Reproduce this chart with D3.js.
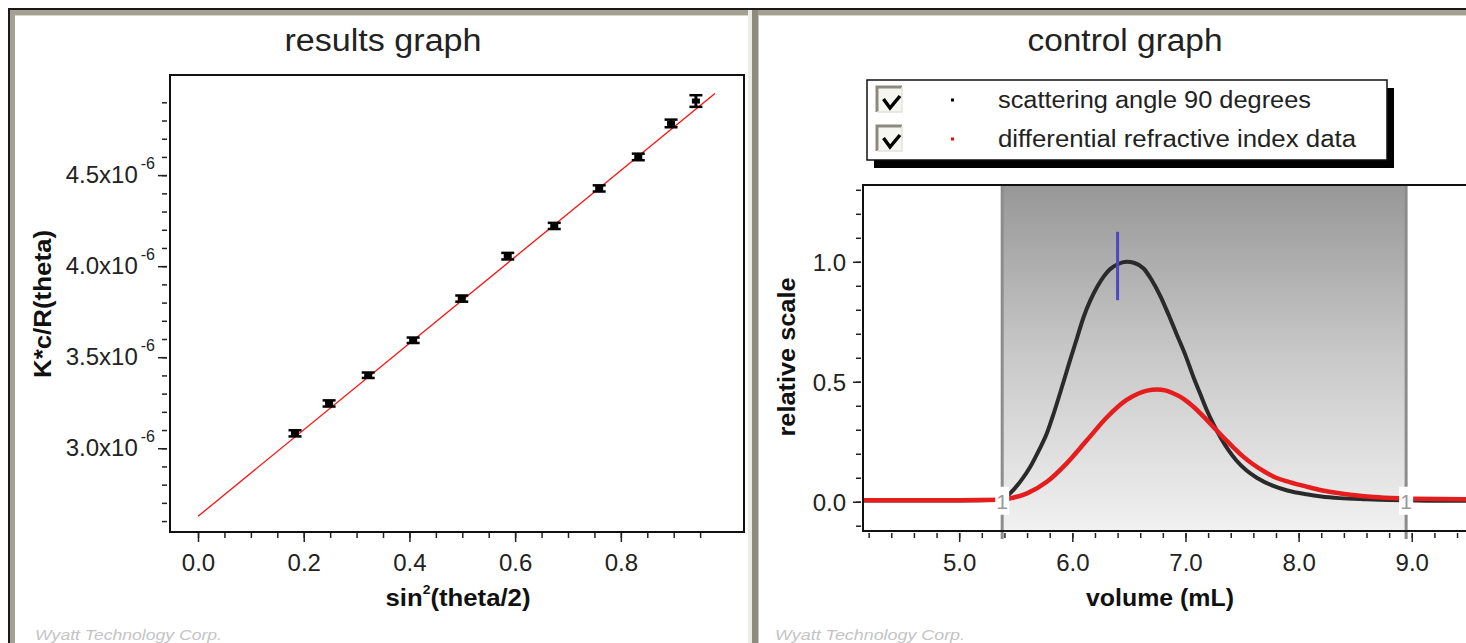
<!DOCTYPE html>
<html><head><meta charset="utf-8">
<script src="https://cdn.jsdelivr.net/npm/d3@7"></script>
<style>
html,body{margin:0;padding:0;background:#fff;}
svg{display:block;font-family:"Liberation Sans",Arial,sans-serif;}
</style></head>
<body>
<svg id="chart" width="1466" height="643"></svg>
<script>
// ---------------- DATA ----------------
// results graph (Zimm-type plot)
const sinSqHalfTheta = [0.1835, 0.248, 0.322, 0.407, 0.499, 0.586, 0.674, 0.759, 0.833, 0.895, 0.942];
const kcR = [3.082e-6, 3.246e-6, 3.401e-6, 3.593e-6, 3.822e-6, 4.055e-6, 4.221e-6, 4.427e-6, 4.600e-6, 4.784e-6, 4.907e-6];
const kcRErr = [0.017e-6, 0.017e-6, 0.015e-6, 0.015e-6, 0.017e-6, 0.018e-6, 0.017e-6, 0.017e-6, 0.018e-6, 0.021e-6, 0.032e-6];
const fitX = [0.0, 0.978];
const fitY = [2.626e-6, 4.949e-6];
const resultsXTicks = [0.0, 0.2, 0.4, 0.6, 0.8];
const resultsXTickLabels = ["0.0", "0.2", "0.4", "0.6", "0.8"];
const resultsYTicks = [3.0e-6, 3.5e-6, 4.0e-6, 4.5e-6];
const resultsYTickLabels = ["3.0x10", "3.5x10", "4.0x10", "4.5x10"];
const resultsYTickExp = "-6";

// control graph
const lsVolume = [4.15, 4.6, 5.0, 5.38, 5.45, 5.55, 5.63, 5.70, 5.775, 5.83, 5.89, 5.98, 6.04, 6.10, 6.16, 6.22, 6.28, 6.33, 6.40, 6.48, 6.55, 6.63, 6.70, 6.78, 6.85, 6.92, 7.00, 7.07, 7.13, 7.19, 7.25, 7.31, 7.38, 7.45, 7.54, 7.63, 7.77, 7.90, 8.07, 8.20, 8.36, 8.60, 8.80, 8.95, 9.20, 9.60];
const lsSignal = [0.005, 0.005, 0.005, 0.008, 0.035, 0.09, 0.147, 0.21, 0.285, 0.36, 0.45, 0.59, 0.68, 0.77, 0.84, 0.896, 0.94, 0.968, 0.99, 1.0, 0.995, 0.972, 0.925, 0.855, 0.78, 0.70, 0.61, 0.52, 0.45, 0.38, 0.32, 0.268, 0.215, 0.172, 0.13, 0.10, 0.067, 0.047, 0.031, 0.022, 0.015, 0.01, 0.007, 0.006, 0.004, 0.004];
const riVolume = [4.15, 4.6, 5.0, 5.38, 5.45, 5.60, 5.775, 5.95, 6.13, 6.31, 6.48, 6.58, 6.66, 6.75, 6.82, 6.89, 6.98, 7.07, 7.16, 7.25, 7.33, 7.42, 7.50, 7.60, 7.70, 7.80, 7.92, 8.07, 8.20, 8.36, 8.50, 8.66, 8.89, 9.00, 9.60];
const riSignal = [0.006, 0.006, 0.006, 0.008, 0.014, 0.035, 0.083, 0.16, 0.257, 0.354, 0.424, 0.45, 0.463, 0.468, 0.464, 0.452, 0.43, 0.396, 0.355, 0.31, 0.27, 0.228, 0.192, 0.155, 0.125, 0.10, 0.082, 0.063, 0.048, 0.035, 0.027, 0.02, 0.014, 0.012, 0.01];
const peakRange = [5.38, 8.95];
const peakLabels = ["1", "1"];
const markerVolume = 6.40;
const markerSpan = [0.84, 1.125];
const controlXTicks = [5.0, 6.0, 7.0, 8.0, 9.0];
const controlXTickLabels = ["5.0", "6.0", "7.0", "8.0", "9.0"];
const controlYTicks = [0.0, 0.5, 1.0];
const controlYTickLabels = ["0.0", "0.5", "1.0"];
const legendLabels = ["scattering angle 90 degrees", "differential refractive index data"];
const legendColors = ["#000000", "#ff0000"];

// ---------------- DRAW ----------------
const svg = d3.select("#chart");
const FONT = "'Liberation Sans', Arial, sans-serif";
const defs = svg.append("defs");

// panel frames
svg.append("rect").attr("x", 0).attr("y", 0).attr("width", 1466).attr("height", 643).attr("fill", "#fff");
svg.append("rect").attr("x", 8).attr("y", 8).attr("width", 1460).attr("height", 2).attr("fill", "#1a1a1a");
svg.append("rect").attr("x", 8).attr("y", 8).attr("width", 2).attr("height", 640).attr("fill", "#1a1a1a");
svg.append("rect").attr("x", 10).attr("y", 10).attr("width", 1460).attr("height", 5).attr("fill", "#a5a192");
svg.append("rect").attr("x", 10).attr("y", 10).attr("width", 5).attr("height", 640).attr("fill", "#a5a192");
svg.append("rect").attr("x", 15).attr("y", 15).attr("width", 1460).attr("height", 1).attr("fill", "#d8d6cc");
svg.append("rect").attr("x", 748).attr("y", 10).attr("width", 4).attr("height", 640).attr("fill", "#ecebe4");
svg.append("rect").attr("x", 752).attr("y", 10).attr("width", 6).attr("height", 640).attr("fill", "#8f8b7c");
svg.append("rect").attr("x", 758).attr("y", 15).attr("width", 1).attr("height", 640).attr("fill", "#c8c6bc");

// ===== results graph =====
const xL = d3.scaleLinear().domain([-0.053, 1.033]).range([170, 744]);
const yL = d3.scaleLinear().domain([2.54e-6, 5.05e-6]).range([532, 75]);

svg.append("text").attr("x", 383).attr("y", 40).attr("text-anchor", "middle").attr("dominant-baseline", "central")
  .attr("font-family", FONT).attr("font-size", 31).attr("fill", "#222")
  .attr("textLength", 197).attr("lengthAdjust", "spacingAndGlyphs").text("results graph");

const gxLmin = svg.append("g").attr("transform", "translate(0,533)")
  .call(d3.axisBottom(xL).tickValues(d3.range(0, 0.951, 0.05)).tickSize(5).tickFormat(""));
const gxL = svg.append("g").attr("transform", "translate(0,533)")
  .call(d3.axisBottom(xL).tickValues(resultsXTicks).tickSize(9).tickFormat((d, i) => resultsXTickLabels[i]));
const gyLmin = svg.append("g").attr("transform", "translate(167,0)")
  .call(d3.axisLeft(yL).tickValues(d3.range(26, 49.5, 1).map(v => v * 1e-7)).tickSize(5).tickFormat(""));
const gyL = svg.append("g").attr("transform", "translate(167,0)")
  .call(d3.axisLeft(yL).tickValues(resultsYTicks).tickSize(9).tickFormat(""));
[gxLmin, gxL, gyLmin, gyL].forEach(g => {
  g.select(".domain").remove();
  g.selectAll(".tick line").attr("stroke", "#222").attr("stroke-width", 1.5);
});
gxL.selectAll(".tick text").attr("font-family", FONT).attr("font-size", 24).attr("fill", "#222")
  .attr("dy", null).attr("y", 29).attr("dominant-baseline", "central");

const yLab = svg.append("g");
resultsYTicks.forEach((v, i) => {
  const t = yLab.append("text").attr("x", 155).attr("y", yL(v) + 8).attr("text-anchor", "end")
    .attr("font-family", FONT).attr("font-size", 24).attr("fill", "#222");
  t.append("tspan").text(resultsYTickLabels[i]);
  t.append("tspan").attr("dx", 3).attr("dy", -14).attr("font-size", 16).text(resultsYTickExp);
});

svg.append("text").attr("x", 458).attr("y", 597).attr("text-anchor", "middle").attr("dominant-baseline", "central")
  .attr("font-family", FONT).attr("font-size", 24).attr("font-weight", "bold").attr("fill", "#111")
  .attr("textLength", 145).attr("lengthAdjust", "spacingAndGlyphs")
  .call(t => { t.append("tspan").text("sin"); t.append("tspan").attr("font-size", 13).attr("dy", -8).text("2");
               t.append("tspan").attr("dy", 8).text("(theta/2)"); });
svg.append("text").attr("transform", "translate(42,304) rotate(-90)").attr("text-anchor", "middle")
  .attr("dominant-baseline", "central").attr("font-family", FONT).attr("font-size", 24)
  .attr("font-weight", "bold").attr("fill", "#111")
  .attr("textLength", 148).attr("lengthAdjust", "spacingAndGlyphs").text("K*c/R(theta)");

svg.append("path").datum(fitX.map((x, i) => [x, fitY[i]]))
  .attr("d", d3.line().x(d => xL(d[0])).y(d => yL(d[1])))
  .attr("fill", "none").attr("stroke", "#ff1010").attr("stroke-width", 1.3);

const pts = sinSqHalfTheta.map((x, i) => ({x, y: kcR[i], e: kcRErr[i]}));
const eb = svg.append("g").selectAll("g").data(pts).join("g");
eb.append("line").attr("x1", d => xL(d.x)).attr("x2", d => xL(d.x))
  .attr("y1", d => yL(d.y - d.e)).attr("y2", d => yL(d.y + d.e)).attr("stroke", "#000").attr("stroke-width", 3);
eb.append("line").attr("x1", d => xL(d.x) - 6.5).attr("x2", d => xL(d.x) + 6.5)
  .attr("y1", d => yL(d.y + d.e)).attr("y2", d => yL(d.y + d.e)).attr("stroke", "#000").attr("stroke-width", 2.5);
eb.append("line").attr("x1", d => xL(d.x) - 6.5).attr("x2", d => xL(d.x) + 6.5)
  .attr("y1", d => yL(d.y - d.e)).attr("y2", d => yL(d.y - d.e)).attr("stroke", "#000").attr("stroke-width", 2.5);
eb.append("rect").attr("x", d => xL(d.x) - 4).attr("y", d => yL(d.y) - 2.5).attr("width", 8).attr("height", 5).attr("fill", "#000");

svg.append("rect").attr("x", 170).attr("y", 75).attr("width", 574).attr("height", 457)
  .attr("fill", "none").attr("stroke", "#111").attr("stroke-width", 2);

svg.append("text").attr("x", 35).attr("y", 634).attr("dominant-baseline", "central")
  .attr("font-family", FONT).attr("font-size", 15).attr("font-style", "italic").attr("fill", "#c4c4c4")
  .attr("textLength", 187).attr("lengthAdjust", "spacingAndGlyphs").text("Wyatt Technology Corp.");

// ===== control graph =====
const xR = d3.scaleLinear().domain([4.15, 9.6]).range([863, 863 + 5.45 * 113.15]);
const yR = d3.scaleLinear().domain([-0.122, 1.32]).range([531, 185]);
const boxR = {x: 863, y: 185, w: 640, h: 346};

svg.append("text").attr("x", 1125).attr("y", 40).attr("text-anchor", "middle").attr("dominant-baseline", "central")
  .attr("font-family", FONT).attr("font-size", 31).attr("fill", "#222")
  .attr("textLength", 195).attr("lengthAdjust", "spacingAndGlyphs").text("control graph");

const grad = defs.append("linearGradient").attr("id", "shade").attr("x1", 0).attr("y1", 0).attr("x2", 0).attr("y2", 1);
grad.append("stop").attr("offset", "0%").attr("stop-color", "#979797");
grad.append("stop").attr("offset", "50%").attr("stop-color", "#c9c9c9");
grad.append("stop").attr("offset", "100%").attr("stop-color", "#f1f1f1");
defs.append("clipPath").attr("id", "clipR").append("rect")
  .attr("x", boxR.x).attr("y", boxR.y).attr("width", boxR.w).attr("height", boxR.h);

svg.append("rect").attr("x", boxR.x).attr("y", boxR.y).attr("width", boxR.w).attr("height", boxR.h).attr("fill", "#fff");
svg.append("rect").attr("x", xR(peakRange[0])).attr("y", boxR.y).attr("width", xR(peakRange[1]) - xR(peakRange[0]))
  .attr("height", boxR.h).attr("fill", "url(#shade)");
peakRange.forEach(v => {
  svg.append("line").attr("x1", xR(v)).attr("x2", xR(v)).attr("y1", boxR.y).attr("y2", boxR.y + boxR.h + 8)
    .attr("stroke", "#8c8c8c").attr("stroke-width", 3);
});

const gxRmin = svg.append("g").attr("transform", "translate(0,533)")
  .call(d3.axisBottom(xR).tickValues(d3.range(42, 97, 2).map(v => v / 10)).tickSize(5).tickFormat(""));
const gxR = svg.append("g").attr("transform", "translate(0,533)")
  .call(d3.axisBottom(xR).tickValues(controlXTicks).tickSize(9).tickFormat((d, i) => controlXTickLabels[i]));
const gyRmin = svg.append("g").attr("transform", "translate(861,0)")
  .call(d3.axisLeft(yR).tickValues(d3.range(-1, 13.5, 1).map(v => v / 10)).tickSize(5).tickFormat(""));
const gyR = svg.append("g").attr("transform", "translate(861,0)")
  .call(d3.axisLeft(yR).tickValues(controlYTicks).tickSize(8).tickFormat((d, i) => controlYTickLabels[i]));
[gxRmin, gxR, gyRmin, gyR].forEach(g => {
  g.select(".domain").remove();
  g.selectAll(".tick line").attr("stroke", "#222").attr("stroke-width", 1.5);
});
gxR.selectAll(".tick text").attr("font-family", FONT).attr("font-size", 24).attr("fill", "#222")
  .attr("dy", null).attr("y", 29).attr("dominant-baseline", "central");
gyR.selectAll(".tick text").attr("font-family", FONT).attr("font-size", 24).attr("fill", "#222")
  .attr("dy", null).attr("x", -15).attr("dominant-baseline", "central");

svg.append("text").attr("x", 1160).attr("y", 597).attr("text-anchor", "middle").attr("dominant-baseline", "central")
  .attr("font-family", FONT).attr("font-size", 24).attr("font-weight", "bold").attr("fill", "#111")
  .attr("textLength", 148).attr("lengthAdjust", "spacingAndGlyphs").text("volume (mL)");
svg.append("text").attr("transform", "translate(786,357) rotate(-90)").attr("text-anchor", "middle")
  .attr("dominant-baseline", "central").attr("font-family", FONT).attr("font-size", 24)
  .attr("font-weight", "bold").attr("fill", "#111")
  .attr("textLength", 159).attr("lengthAdjust", "spacingAndGlyphs").text("relative scale");

const curveG = svg.append("g").attr("clip-path", "url(#clipR)");
const lineR = d3.line().x(d => xR(d[0])).y(d => yR(d[1])).curve(d3.curveMonotoneX);
curveG.append("path").datum(lsVolume.map((v, i) => [v, lsSignal[i]])).attr("d", lineR)
  .attr("fill", "none").attr("stroke", "#2a2a2a").attr("stroke-width", 4);
curveG.append("path").datum(riVolume.map((v, i) => [v, riSignal[i]])).attr("d", lineR)
  .attr("fill", "none").attr("stroke", "#e51d1d").attr("stroke-width", 4.5);

svg.append("line").attr("x1", xR(markerVolume)).attr("x2", xR(markerVolume))
  .attr("y1", yR(markerSpan[1])).attr("y2", yR(markerSpan[0])).attr("stroke", "#4a4ac0").attr("stroke-width", 3);

peakRange.forEach((v, i) => {
  svg.append("rect").attr("x", xR(v) - 7).attr("y", yR(0) - 15).attr("width", 14).attr("height", 28).attr("fill", "#fff");
  svg.append("text").attr("x", xR(v)).attr("y", yR(0)).attr("text-anchor", "middle").attr("dominant-baseline", "central")
    .attr("font-family", FONT).attr("font-size", 21).attr("fill", "#9a9a9a").text(peakLabels[i]);
});

svg.append("rect").attr("x", boxR.x).attr("y", boxR.y).attr("width", boxR.w).attr("height", boxR.h)
  .attr("fill", "none").attr("stroke", "#111").attr("stroke-width", 2);

// legend
svg.append("rect").attr("x", 874).attr("y", 88).attr("width", 520).attr("height", 80).attr("fill", "#000");
svg.append("rect").attr("x", 867).attr("y", 80).attr("width", 520).attr("height", 80)
  .attr("fill", "#fff").attr("stroke", "#111").attr("stroke-width", 1.5);
const legendWidths = [313, 358];
legendLabels.forEach((lab, i) => {
  const cy = 100 + i * 39;
  const g = svg.append("g");
  g.append("rect").attr("x", 877).attr("y", cy - 13).attr("width", 25).attr("height", 25).attr("fill", "#f6f6f0");
  g.append("path").attr("d", `M877,${cy + 12}V${cy - 13}H902`).attr("fill", "none").attr("stroke", "#8c8a7e").attr("stroke-width", 3);
  g.append("path").attr("d", `M902,${cy - 13}V${cy + 12}H877`).attr("fill", "none").attr("stroke", "#e4e2da").attr("stroke-width", 1.5);
  g.append("path").attr("d", `M883.5,${cy - 1}L890,${cy + 8}L900,${cy - 4}`).attr("fill", "none")
    .attr("stroke", "#000").attr("stroke-width", 3.5).attr("stroke-linejoin", "miter");
  g.append("rect").attr("x", 951).attr("y", cy - 1.5).attr("width", 3).attr("height", 3).attr("fill", legendColors[i]);
  g.append("text").attr("x", 998).attr("y", cy).attr("dominant-baseline", "central")
    .attr("font-family", FONT).attr("font-size", 23).attr("fill", "#222")
    .attr("textLength", legendWidths[i]).attr("lengthAdjust", "spacingAndGlyphs").text(lab);
});

svg.append("text").attr("x", 775).attr("y", 634).attr("dominant-baseline", "central")
  .attr("font-family", FONT).attr("font-size", 15).attr("font-style", "italic").attr("fill", "#c4c4c4")
  .attr("textLength", 190).attr("lengthAdjust", "spacingAndGlyphs").text("Wyatt Technology Corp.");
</script>
</body></html>
